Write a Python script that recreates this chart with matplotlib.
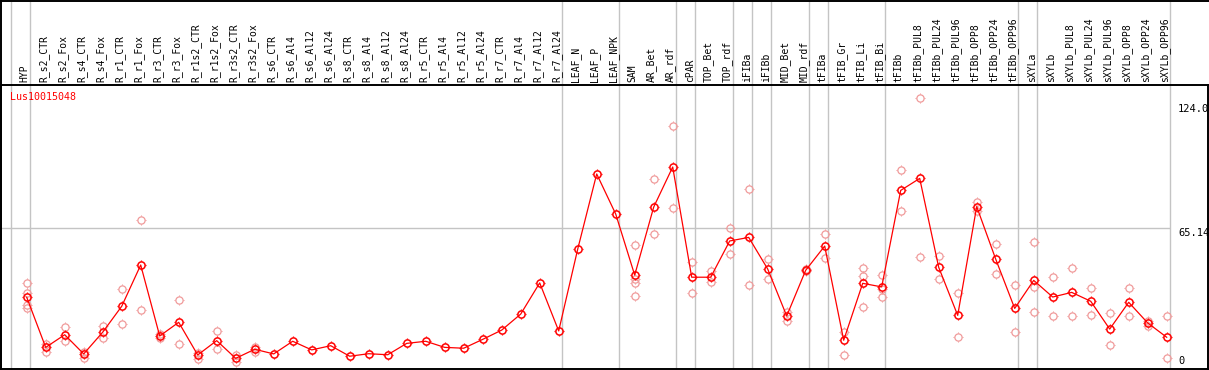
import numpy as np
import matplotlib
matplotlib.use("Agg")
import matplotlib.pyplot as plt
from matplotlib.path import Path
from matplotlib.lines import Line2D
import matplotlib.transforms as mtrans

# ---------------- data ----------------
title = "Lus10015048"
categories = [
    "HYP", "R_s2_CTR", "R_s2_Fox", "R_s4_CTR", "R_s4_Fox", "R_r1_CTR", "R_r1_Fox",
    "R_r3_CTR", "R_r3_Fox", "R_r1s2_CTR", "R_r1s2_Fox", "R_r3s2_CTR", "R_r3s2_Fox",
    "R_s6_CTR", "R_s6_Al4", "R_s6_Al12", "R_s6_Al24", "R_s8_CTR", "R_s8_Al4",
    "R_s8_Al12", "R_s8_Al24", "R_r5_CTR", "R_r5_Al4", "R_r5_Al12", "R_r5_Al24",
    "R_r7_CTR", "R_r7_Al4", "R_r7_Al12", "R_r7_Al24", "LEAF_N", "LEAF_P", "LEAF_NPK",
    "SAM", "AR_Bet", "AR_rdf", "cPAR", "TOP_Bet", "TOP_rdf", "iFIBa", "iFIBb",
    "MID_Bet", "MID_rdf", "tFIBa", "tFIB_Gr", "tFIB_Li", "tFIB_Bi", "tFIBb",
    "tFIBb_PUL8", "tFIBb_PUL24", "tFIBb_PUL96", "tFIBb_OPP8", "tFIBb_OPP24",
    "tFIBb_OPP96", "sXYLa", "sXYLb", "sXYLb_PUL8", "sXYLb_PUL24", "sXYLb_PUL96",
    "sXYLb_OPP8", "sXYLb_OPP24", "sXYLb_OPP96",
]
mean_values = [
    32.4, 8.6, 14.6, 5.5, 15.8, 28.1, 47.7, 14.0, 20.5, 5.0, 11.8, 3.4, 7.7,
    5.5, 11.5, 7.4, 9.4, 4.4, 5.6, 5.1, 10.5, 11.5, 8.6, 8.2, 12.4, 16.8, 24.4,
    39.2, 16.4, 55.2, 90.9, 71.9, 42.9, 75.2, 94.2, 41.9, 41.9, 59.1, 60.8, 45.8,
    23.5, 45.2, 56.7, 12.0, 39.0, 37.3, 83.1, 88.8, 46.6, 23.8, 75.4, 50.5, 27.1,
    40.4, 32.5, 34.7, 30.5, 17.3, 30.0, 20.2, 13.4,
]
replicate_values = [
    [39.1, 34.3, 28.6, 27.4], [10.0, 6.6], [18.1, 11.4], [6.3, 3.7], [18.7, 12.9],
    [36.2, 19.6], [68.9, 26.2], [15.0, 12.9], [30.9, 10.1], [6.1, 3.3], [16.3, 7.7],
    [5.0, 1.8], [8.9, 6.6],
    [], [], [], [], [], [], [], [], [], [], [], [], [], [], [], [], [], [], [],
    [57.0, 40.9, 39.3, 33.0], [88.4, 62.3], [113.5, 74.6], [49.0, 34.3], [44.9, 39.5],
    [65.1, 52.8], [83.6, 38.1], [50.5, 40.9], [25.5, 21.1], [45.6, 44.8], [62.4, 50.9],
    [16.0, 5.0], [46.3, 42.3, 27.6], [42.8, 36.3, 32.5], [92.6, 73.2], [126.8, 51.4],
    [51.8, 40.9], [34.3, 13.4], [77.6, 73.3], [57.5, 43.3], [38.2, 15.8],
    [58.5, 37.4, 25.2], [41.9, 23.5], [46.3, 23.5], [36.8, 24.0], [24.8, 9.6],
    [36.8, 23.5], [21.1, 18.9], [23.5, 3.4],
]
group_last_index = [-1, 0, 28, 31, 34, 35, 37, 38, 39, 41, 42, 45, 52, 53, 60]
axis_labels = ["124.0", "65.14", "0"]
axis_values = [124.0, 65.14, 0.0]
ref_line_value = 65.14

# ---------------- style ----------------
W, H, DPI = 1209, 370, 100
RED = "#ff0000"
PINK = "#f09a9a"
GRAY = "#c4c4c4"
MONO = "DejaVu Sans Mono"

fig = plt.figure(figsize=(W / DPI, H / DPI), dpi=DPI)
fig.patch.set_facecolor("white")

ax_left_px, ax_right_px = 1, 1208
ax_top_px, ax_bot_px = 85, 369
ax = fig.add_axes([ax_left_px / W, (H - ax_bot_px) / H,
                   (ax_right_px - ax_left_px) / W, (ax_bot_px - ax_top_px) / H])

x0_px, dx_px = 26.7, 19.0
zero_px, per_unit = 365.5, 2.107
ax.set_xlim((ax_left_px - x0_px) / dx_px, (ax_right_px - x0_px) / dx_px)
ax.set_ylim((zero_px - ax_bot_px) / per_unit, (zero_px - ax_top_px) / per_unit)
ax.set_xticks([])
ax.set_yticks([])
for s in ax.spines.values():
    s.set_color("black")
    s.set_linewidth(1.4)

# tick marks around the circle markers (four short spokes)
tv, tc = [], []
for ddx, ddy in [(1, 0), (-1, 0), (0, 1), (0, -1)]:
    tv += [(ddx * 0.72, ddy * 0.72), (ddx * 1.0, ddy * 1.0)]
    tc += [Path.MOVETO, Path.LINETO]
spokes = Path(tv, tc)

CIRCLE_MS = 5.2
SPOKE_MS = 7.2


def draw_points(x, y, color, mew, z):
    ax.plot(x, y, linestyle="none", marker="o", markersize=CIRCLE_MS,
            markerfacecolor="none", markeredgecolor=color, markeredgewidth=mew,
            zorder=z)
    ax.plot(x, y, linestyle="none", marker=spokes, markersize=SPOKE_MS,
            markerfacecolor="none", markeredgecolor=color, markeredgewidth=mew * 0.8,
            zorder=z)


n = len(categories)
xs = np.arange(n)

# separators
sep_offset = 3.6 / dx_px
top_frac = 1 + ax_top_px / (ax_bot_px - ax_top_px) + 0.01
for gi in group_last_index:
    ax.axvline(gi + sep_offset, ymin=0, ymax=top_frac, color=GRAY, lw=1.0,
               clip_on=False, zorder=1)
ax.hlines(ref_line_value, ax.get_xlim()[0], group_last_index[-1] + sep_offset,
          color=GRAY, lw=1.0, zorder=1)

# replicates
for i, reps in enumerate(replicate_values):
    if reps:
        draw_points([i] * len(reps), reps, PINK, 0.9, 2)

# mean line
ax.plot(xs, mean_values, color=RED, lw=0.9, zorder=3)
draw_points(xs, mean_values, RED, 1.1, 3)

# category labels (rotated, above the plot)
lab_off = mtrans.offset_copy(ax.transData, fig=fig, x=-2, y=0, units="dots")
blend = mtrans.blended_transform_factory(lab_off, ax.transAxes)
for i, c in enumerate(categories):
    ax.text(i, 1 + 2.5 / (ax_bot_px - ax_top_px), c, rotation=90, ha="center",
            va="bottom", fontsize=7, family=MONO, color="black", transform=blend)

# title
ax.text(9 / (ax_right_px - ax_left_px), 1 - 12.5 / (ax_bot_px - ax_top_px), title,
        transform=ax.transAxes, ha="left", va="center", fontsize=7.2, family=MONO,
        color=RED)

# right-side value labels
xlab = (1178 - x0_px) / dx_px
for v, lab in zip(axis_values, axis_labels):
    va = "bottom" if v == 0 else "top"
    ax.text(xlab, v, lab, ha="left", va=va, fontsize=7.5, family=MONO, color="black",
            zorder=4)

# figure border (top and left lines)
fig.add_artist(Line2D([0, 1], [1 - 0.5 / H, 1 - 0.5 / H], color="black", lw=1.4,
                      transform=fig.transFigure))
fig.add_artist(Line2D([0.5 / W, 0.5 / W], [0, 1], color="black", lw=1.4,
                      transform=fig.transFigure))

fig.savefig("out.png", dpi=DPI, facecolor="white")
